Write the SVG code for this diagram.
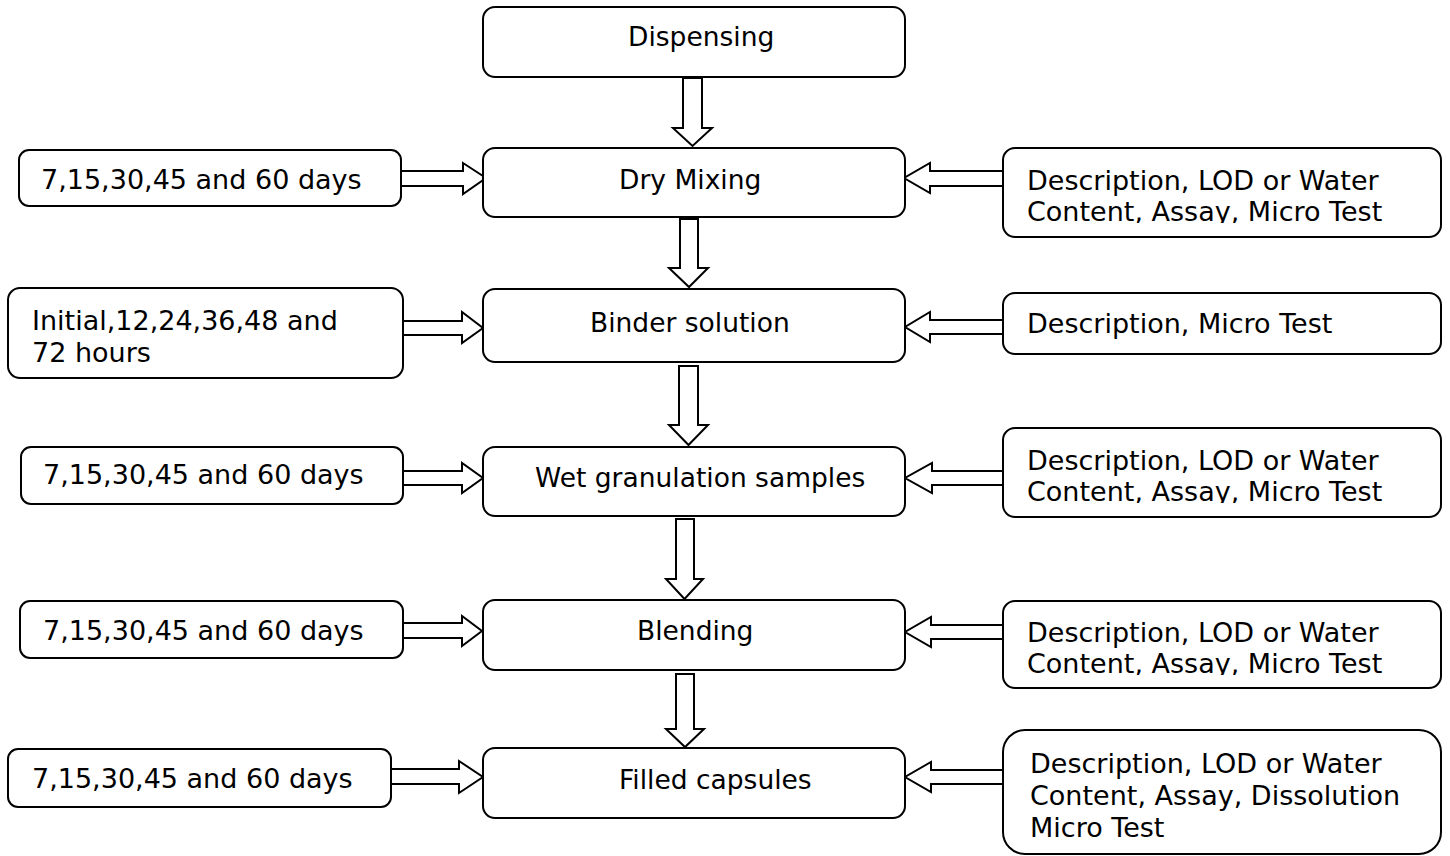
<svg xmlns="http://www.w3.org/2000/svg" width="1450" height="856" viewBox="0 0 1450 856">
<style>
.box{fill:#fff;stroke:#000;stroke-width:2}
.arr{fill:#fff;stroke:#000;stroke-width:2;stroke-linejoin:miter}
text{font-family:"DejaVu Sans","Liberation Sans",sans-serif;font-size:26.5px;fill:#000}
.side text,text.side{font-size:27px}
</style>
<defs>
<clipPath id="c1"><rect x="1003" y="148" width="438" height="75"/></clipPath>
<clipPath id="c3"><rect x="1003" y="428" width="438" height="75"/></clipPath>
<clipPath id="c4"><rect x="1003" y="601" width="438" height="74"/></clipPath>
</defs>
<rect width="1450" height="856" fill="#fff"/>
<g id="connectors">
<polygon class="arr" points="683,78 702,78 702,128 712,128 692.5,146 673,128 683,128"/>
<polygon class="arr" points="680,219 698,219 698,268 708,268 689,287 669,268 680,268"/>
<polygon class="arr" points="679,366 698,366 698,425 708,425 688.5,445 669,425 679,425"/>
<polygon class="arr" points="676,519 694,519 694,579 703,579 684.5,599 666,579 676,579"/>
<polygon class="arr" points="676,674 694,674 694,729 704,729 685,747 666,729 676,729"/>
<polygon class="arr" points="401,171 463,171 463,163 486,178 463,194 463,186 401,186"/>
<polygon class="arr" points="403,321 462,321 462,312 483,328 462,343 462,335 403,335"/>
<polygon class="arr" points="403,471 462,471 462,463 483,478 462,493 462,485 403,485"/>
<polygon class="arr" points="403,623 462,623 462,616 482,631 462,646 462,638 403,638"/>
<polygon class="arr" points="391,769 459,769 459,761 483,777 459,793 459,784 391,784"/>
<polygon class="arr" points="1003,171 930,171 930,163 904,178 930,193 930,186 1003,186"/>
<polygon class="arr" points="1003,320 930,320 930,312 905,327 930,342 930,334 1003,334"/>
<polygon class="arr" points="1003,471 932,471 932,463 905,478 932,493 932,485 1003,485"/>
<polygon class="arr" points="1003,625 931,625 931,617 905,632 931,647 931,639 1003,639"/>
<polygon class="arr" points="1003,770 931,770 931,762 905,777 931,792 931,784 1003,784"/>
</g>
<g id="dispensing"><rect class="box" x="483" y="7" width="422" height="70" rx="12"/><text x="628" y="46">Dispensing</text></g>
<g id="dry-mixing"><rect class="box" x="483" y="148" width="422" height="69" rx="12"/><text x="619" y="189">Dry Mixing</text></g>
<g id="binder-solution"><rect class="box" x="483" y="289" width="422" height="73" rx="12"/><text x="590" y="332">Binder solution</text></g>
<g id="wet-granulation"><rect class="box" x="483" y="447" width="422" height="69" rx="12"/><text x="535" y="487">Wet granulation samples</text></g>
<g id="blending"><rect class="box" x="483" y="600" width="422" height="70" rx="12"/><text x="637" y="640">Blending</text></g>
<g id="filled-capsules"><rect class="box" x="483" y="748" width="422" height="70" rx="12"/><text x="619" y="789">Filled capsules</text></g>
<g id="left-1" class="side"><rect class="box" x="19" y="150" width="382" height="56" rx="10"/><text x="41" y="189">7,15,30,45 and 60 days</text></g>
<g id="left-2" class="side"><rect class="box" x="8" y="288" width="395" height="90" rx="12"/><text x="32" y="330">Initial,12,24,36,48 and</text><text x="32" y="362">72 hours</text></g>
<g id="left-3" class="side"><rect class="box" x="21" y="447" width="382" height="57" rx="10"/><text x="43" y="484">7,15,30,45 and 60 days</text></g>
<g id="left-4" class="side"><rect class="box" x="20" y="601" width="383" height="57" rx="10"/><text x="43" y="640">7,15,30,45 and 60 days</text></g>
<g id="left-5" class="side"><rect class="box" x="8" y="749" width="383" height="58" rx="10"/><text x="32" y="788">7,15,30,45 and 60 days</text></g>
<g id="right-1" class="side"><rect class="box" x="1003" y="148" width="438" height="89" rx="12"/><g clip-path="url(#c1)"><text x="1027" y="190">Description, LOD or Water</text><text x="1027" y="221">Content, Assay, Micro Test</text></g></g>
<g id="right-2" class="side"><rect class="box" x="1003" y="293" width="438" height="61" rx="12"/><text x="1027" y="333">Description, Micro Test</text></g>
<g id="right-3" class="side"><rect class="box" x="1003" y="428" width="438" height="89" rx="12"/><g clip-path="url(#c3)"><text x="1027" y="470">Description, LOD or Water</text><text x="1027" y="501">Content, Assay, Micro Test</text></g></g>
<g id="right-4" class="side"><rect class="box" x="1003" y="601" width="438" height="87" rx="12"/><g clip-path="url(#c4)"><text x="1027" y="642">Description, LOD or Water</text><text x="1027" y="673">Content, Assay, Micro Test</text></g></g>
<g id="right-5" class="side"><rect class="box" x="1003" y="730" width="438" height="124" rx="22"/><text x="1030" y="773">Description, LOD or Water</text><text x="1030" y="805">Content, Assay, Dissolution</text><text x="1030" y="837">Micro Test</text></g>
</svg>
